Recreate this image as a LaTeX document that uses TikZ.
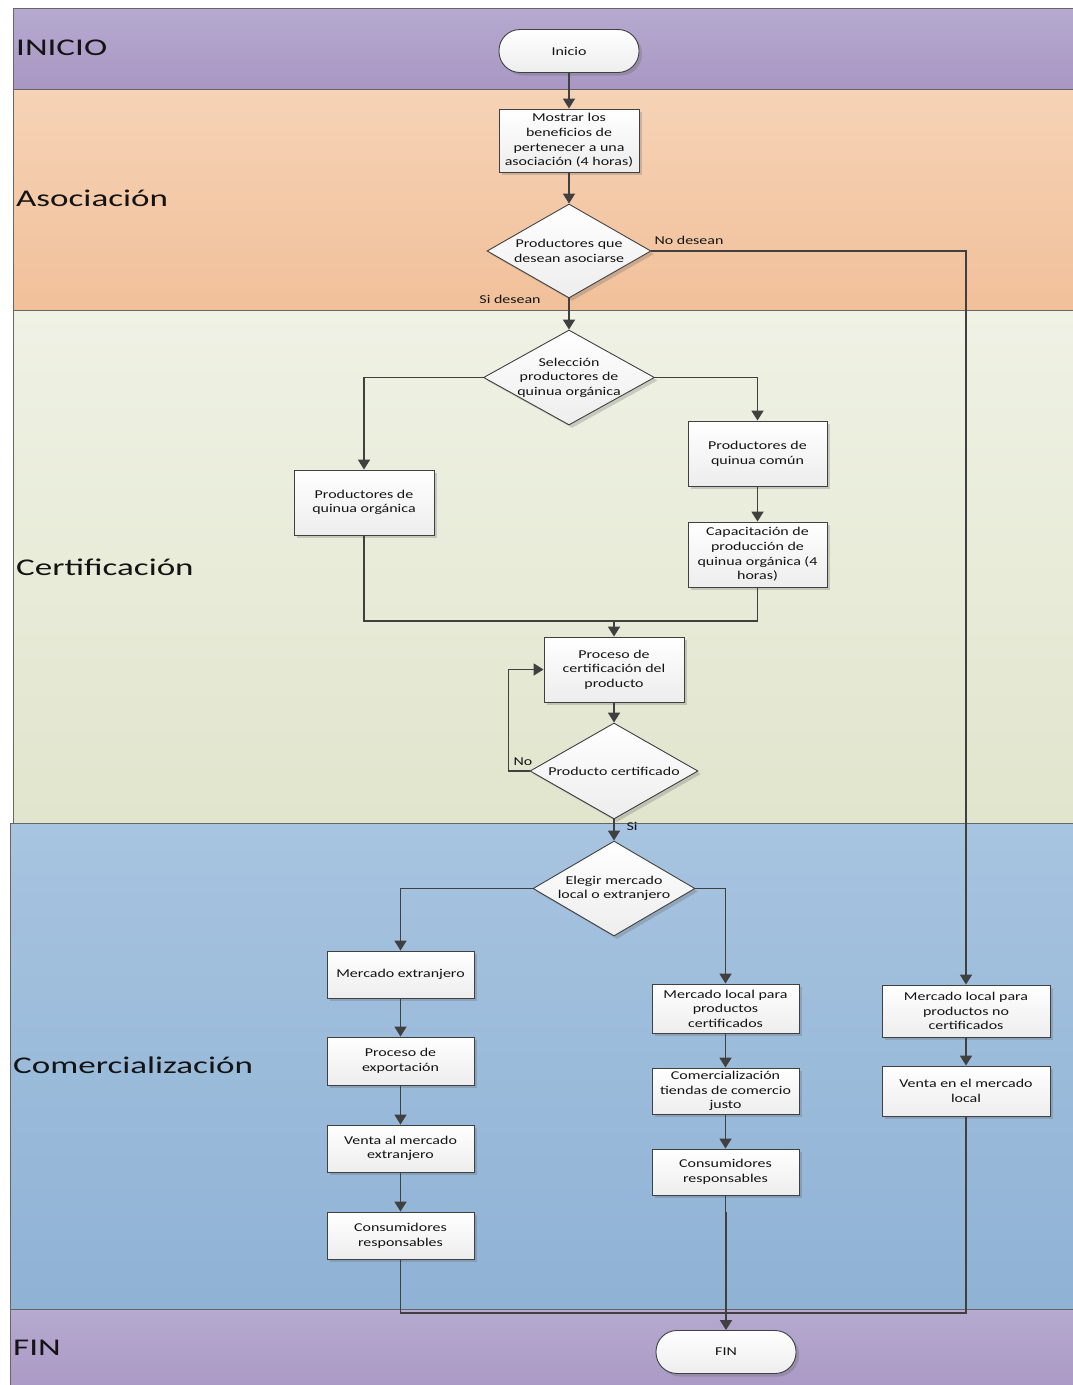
\documentclass[tikz,border=0pt]{standalone}
\usepackage{fontspec}
\setmainfont{Carlito}[FakeStretch=1.33]
\newfontfamily\lanefont{Carlito}[FakeStretch=1.46]
\usetikzlibrary{shapes.geometric,shadows,arrows.meta}
\definecolor{purT}{HTML}{B6AAD0}
\definecolor{purB}{HTML}{A897C3}
\definecolor{peaT}{HTML}{F6D3B6}
\definecolor{peaB}{HTML}{F1C09A}
\definecolor{greT}{HTML}{EFF2E4}
\definecolor{greB}{HTML}{E1E5CD}
\definecolor{bluT}{HTML}{A7C4E0}
\definecolor{bluB}{HTML}{8FB2D5}
\definecolor{edge}{HTML}{404040}
\definecolor{txt}{HTML}{141414}
\tikzset{
  lane/.style={draw=gray!80!black, line width=0.8pt},
  lanelabel/.style={anchor=west, font=\lanefont\fontsize{24}{28}\selectfont, text=txt, inner sep=0pt},
  shad/.style={drop shadow={shadow xshift=3pt, shadow yshift=-3pt, opacity=0.25, fill=gray!70!black}},
  box/.style={draw=edge, line width=0.9pt, top color=white, bottom color=gray!14, shad,
    align=center, inner sep=1pt, font=\fontsize{12}{14.6}\selectfont, text=txt},
  term/.style={box, rounded corners=21pt, minimum width=140pt, minimum height=43pt},
  dec/.style={diamond, draw=edge, line width=0.9pt, top color=white, bottom color=gray!14, shad, inner sep=0pt},
  dtxt/.style={align=center, inner sep=0pt, font=\fontsize{12}{14.6}\selectfont, text=txt},
  ln/.style={draw=edge, line width=1.8pt},
  arr/.style={ln, -{Triangle[width=12pt,length=10pt]}},
  lbl/.style={font=\fontsize{12}{14}\selectfont, text=txt, inner sep=0pt},
}
\begin{document}
\begin{tikzpicture}[x=1pt,y=-1pt]
\useasboundingbox (0,0) rectangle (1073,1385);
% lanes
\path[lane, top color=purT, bottom color=purB] (13,8) rectangle (1090,89);
\path[lane, top color=peaT, bottom color=peaB] (13,89) rectangle (1090,310);
\path[lane, top color=greT, bottom color=greB] (13,310) rectangle (1090,823);
\path[lane, top color=bluT, bottom color=bluB] (10,823) rectangle (1090,1309);
\path[lane, top color=purT, bottom color=purB] (10,1309) rectangle (1090,1400);
\node[lanelabel] (lI) at (16,48) {INICIO};
\node[lanelabel] (lA) at (16,198) {Asociación};
\node[lanelabel] (lC) at (16,567) {Certificación};
\node[lanelabel] (lM) at (13,1065) {Comercialización};
\node[lanelabel] (lF) at (13,1348) {FIN};
% nodes
\node[term] (ini) at (569,51) {Inicio};
\node[box, minimum width=140pt, minimum height=63pt] (mos) at (569,140.5) {Mostrar los\\beneficios de\\pertenecer a una\\asociación (4 horas)};
\node[dec, minimum width=164pt, minimum height=94pt] (d1) at (569,251) {};
\node[dtxt] (d1t) at (d1) {Productores que\\desean asociarse};
\node[dec, minimum width=171pt, minimum height=95pt] (d2) at (569,377.5) {};
\node[dtxt] (d2t) at (d2) {Selección\\productores de\\quinua orgánica};
\node[box, minimum width=139pt, minimum height=65pt] (pqc) at (757.5,453.5) {Productores de\\quinua común};
\node[box, minimum width=140pt, minimum height=65pt] (pqo) at (364,502.5) {Productores de\\quinua orgánica};
\node[box, minimum width=139pt, minimum height=65pt] (cap) at (757.5,554.5) {Capacitación de\\producción de\\quinua orgánica (4\\horas)};
\node[box, minimum width=140pt, minimum height=65pt] (pro) at (614,669.5) {Proceso de\\certificación del\\producto};
\node[dec, minimum width=168pt, minimum height=96pt] (d3) at (614,771) {};
\node[dtxt] (d3t) at (d3) {Producto certificado};
\node[dec, minimum width=162pt, minimum height=95pt] (d4) at (614,888.5) {};
\node[dtxt] (d4t) at (d4) {Elegir mercado\\local o extranjero};
\node[box, minimum width=147pt, minimum height=47pt] (mex) at (400.5,974.5) {Mercado extranjero};
\node[box, minimum width=147pt, minimum height=48pt] (pex) at (400.5,1061) {Proceso de\\exportación};
\node[box, minimum width=147pt, minimum height=47pt] (vex) at (400.5,1148.5) {Venta al mercado\\extranjero};
\node[box, minimum width=147pt, minimum height=47pt] (cr1) at (400.5,1235.5) {Consumidores\\responsables};
\node[box, minimum width=147pt, minimum height=49pt] (mlc) at (725.5,1008.5) {Mercado local para\\productos\\certificados};
\node[box, minimum width=147pt, minimum height=46pt] (ctc) at (725.5,1091) {Comercialización\\tiendas de comercio\\justo};
\node[box, minimum width=147pt, minimum height=46pt] (cr2) at (725.5,1172) {Consumidores\\responsables};
\node[box, minimum width=168pt, minimum height=52pt] (mln) at (966,1011) {Mercado local para\\productos no\\certificados};
\node[box, minimum width=168pt, minimum height=50pt] (vml) at (966,1091) {Venta en el mercado\\local};
\node[term] (fin) at (726,1352) {FIN};
% labels
\node[lbl] (tNoD) at (689,240) {No desean};
\node[lbl] (tSiD) at (510,299) {Si desean};
\node[lbl] (tNo) at (523,762) {No};
\node[lbl] (tSi) at (632,826) {Si};
% connectors
\coordinate (mrg) at (614,621);
\coordinate (bl) at (400.5,1313);
\coordinate (br) at (966,1313);
\draw[arr] (ini) -- (mos);
\draw[arr] (mos) -- (d1);
\draw[arr] (d1.south) -- (d2.north);
\draw[arr] (d1.east) -| (mln.north);
\draw[arr] (d2.west) -| (pqo.north);
\draw[arr] (d2.east) -| (pqc.north);
\draw[arr] (pqc) -- (cap);
\draw[ln] (pqo.south) |- (mrg);
\draw[ln] (cap.south) |- (mrg);
\draw[arr] (mrg) -- (pro.north);
\draw[arr] (pro) -- (d3);
\draw[arr] (d3.west) -- ++(-21,0) |- (pro.west);
\draw[arr] (d3.south) -- (d4.north);
\draw[arr] (d4.west) -| (mex.north);
\draw[arr] (d4.east) -| (mlc.north);
\draw[arr] (mex) -- (pex);
\draw[arr] (pex) -- (vex);
\draw[arr] (vex) -- (cr1);
\draw[arr] (mlc) -- (ctc);
\draw[arr] (ctc) -- (cr2);
\draw[arr] (mln) -- (vml);
\draw[ln] (cr1.south) -- (bl) -- (br) -- (vml.south);
\draw[arr] (cr2.south) -- ++(0,17) -| (fin.north);
\end{tikzpicture}
\end{document}
